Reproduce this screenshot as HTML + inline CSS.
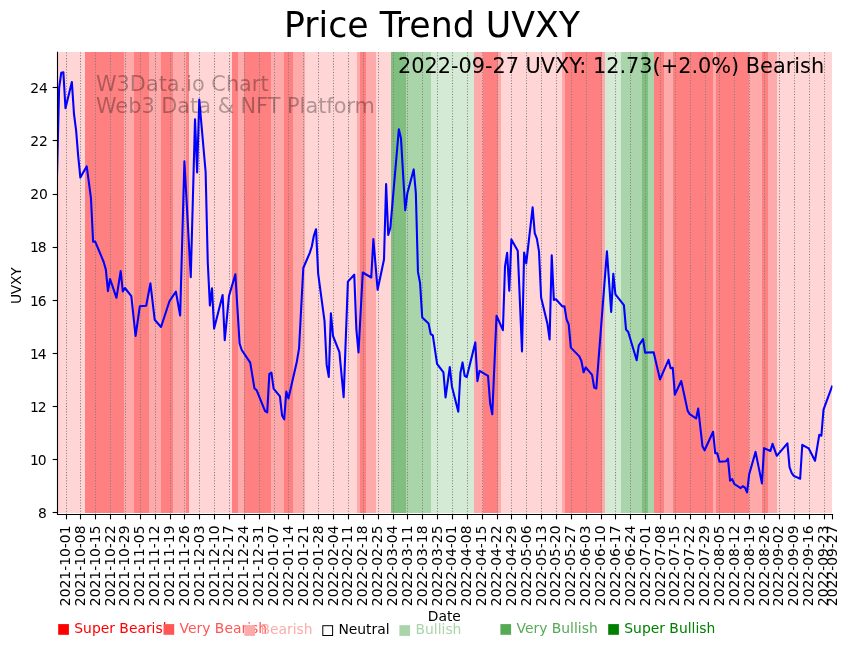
<!DOCTYPE html>
<html lang="en"><head><meta charset="utf-8"><title>Price Trend UVXY</title>
<style>html,body{margin:0;padding:0;background:#fff;}body{width:851px;height:646px;overflow:hidden;}svg{display:block;will-change:transform;}text{font-family:"DejaVu Sans","Liberation Sans",sans-serif;}</style></head><body>
<svg width="851" height="646" viewBox="0 0 851 646">
<rect width="851" height="646" fill="#ffffff"/>
<g shape-rendering="crispEdges">
<rect x="57.5" y="52.0" width="27.5" height="461.0" fill="#ffd5d5"/>
<rect x="85" y="52.0" width="39" height="461.0" fill="#ff8080"/>
<rect x="124" y="52.0" width="10" height="461.0" fill="#ffaaaa"/>
<rect x="134" y="52.0" width="15" height="461.0" fill="#ff8080"/>
<rect x="149" y="52.0" width="12" height="461.0" fill="#ffaaaa"/>
<rect x="161" y="52.0" width="12" height="461.0" fill="#ff8080"/>
<rect x="173" y="52.0" width="13" height="461.0" fill="#ffaaaa"/>
<rect x="186" y="52.0" width="3" height="461.0" fill="#ff8080"/>
<rect x="189" y="52.0" width="43" height="461.0" fill="#ffd5d5"/>
<rect x="232" y="52.0" width="6" height="461.0" fill="#ff8080"/>
<rect x="238" y="52.0" width="6" height="461.0" fill="#ffaaaa"/>
<rect x="244" y="52.0" width="27" height="461.0" fill="#ff8080"/>
<rect x="271" y="52.0" width="13" height="461.0" fill="#ffaaaa"/>
<rect x="284" y="52.0" width="9" height="461.0" fill="#ff8080"/>
<rect x="293" y="52.0" width="12" height="461.0" fill="#ffaaaa"/>
<rect x="305" y="52.0" width="52" height="461.0" fill="#ffd5d5"/>
<rect x="357" y="52.0" width="3" height="461.0" fill="#ffaaaa"/>
<rect x="360" y="52.0" width="6" height="461.0" fill="#ff8080"/>
<rect x="366" y="52.0" width="10" height="461.0" fill="#ffaaaa"/>
<rect x="376" y="52.0" width="15" height="461.0" fill="#ffd5d5"/>
<rect x="391" y="52.0" width="15" height="461.0" fill="#80bf80"/>
<rect x="406" y="52.0" width="25" height="461.0" fill="#aad5aa"/>
<rect x="431" y="52.0" width="43" height="461.0" fill="#d5ead5"/>
<rect x="474" y="52.0" width="9" height="461.0" fill="#ffaaaa"/>
<rect x="483" y="52.0" width="15" height="461.0" fill="#ff8080"/>
<rect x="498" y="52.0" width="3" height="461.0" fill="#ffaaaa"/>
<rect x="501" y="52.0" width="61" height="461.0" fill="#ffd5d5"/>
<rect x="562" y="52.0" width="3" height="461.0" fill="#ffaaaa"/>
<rect x="565" y="52.0" width="37" height="461.0" fill="#ff8080"/>
<rect x="602" y="52.0" width="3" height="461.0" fill="#ffaaaa"/>
<rect x="605" y="52.0" width="16" height="461.0" fill="#d5ead5"/>
<rect x="621" y="52.0" width="21" height="461.0" fill="#aad5aa"/>
<rect x="642" y="52.0" width="6" height="461.0" fill="#80bf80"/>
<rect x="648" y="52.0" width="6" height="461.0" fill="#aad5aa"/>
<rect x="654" y="52.0" width="10" height="461.0" fill="#ff8080"/>
<rect x="664" y="52.0" width="9" height="461.0" fill="#ffaaaa"/>
<rect x="673" y="52.0" width="40" height="461.0" fill="#ff8080"/>
<rect x="713" y="52.0" width="3" height="461.0" fill="#ffaaaa"/>
<rect x="716" y="52.0" width="33" height="461.0" fill="#ff8080"/>
<rect x="749" y="52.0" width="13" height="461.0" fill="#ffaaaa"/>
<rect x="762" y="52.0" width="6" height="461.0" fill="#ff8080"/>
<rect x="768" y="52.0" width="9" height="461.0" fill="#ffaaaa"/>
<rect x="777" y="52.0" width="55" height="461.0" fill="#ffd5d5"/>
</g>
<g stroke="#808080" stroke-width="1.04" stroke-dasharray="1.04 1.72" fill="none">
<line x1="66.5" y1="514.53" x2="66.5" y2="52.0"/>
<line x1="80.5" y1="514.53" x2="80.5" y2="52.0"/>
<line x1="95.5" y1="514.53" x2="95.5" y2="52.0"/>
<line x1="110.5" y1="514.53" x2="110.5" y2="52.0"/>
<line x1="125.5" y1="514.53" x2="125.5" y2="52.0"/>
<line x1="140.5" y1="514.53" x2="140.5" y2="52.0"/>
<line x1="155.5" y1="514.53" x2="155.5" y2="52.0"/>
<line x1="170.5" y1="514.53" x2="170.5" y2="52.0"/>
<line x1="184.5" y1="514.53" x2="184.5" y2="52.0"/>
<line x1="199.5" y1="514.53" x2="199.5" y2="52.0"/>
<line x1="214.5" y1="514.53" x2="214.5" y2="52.0"/>
<line x1="229.5" y1="514.53" x2="229.5" y2="52.0"/>
<line x1="244.5" y1="514.53" x2="244.5" y2="52.0"/>
<line x1="259.5" y1="514.53" x2="259.5" y2="52.0"/>
<line x1="274.5" y1="514.53" x2="274.5" y2="52.0"/>
<line x1="288.5" y1="514.53" x2="288.5" y2="52.0"/>
<line x1="303.5" y1="514.53" x2="303.5" y2="52.0"/>
<line x1="318.5" y1="514.53" x2="318.5" y2="52.0"/>
<line x1="333.5" y1="514.53" x2="333.5" y2="52.0"/>
<line x1="348.5" y1="514.53" x2="348.5" y2="52.0"/>
<line x1="363.5" y1="514.53" x2="363.5" y2="52.0"/>
<line x1="378.5" y1="514.53" x2="378.5" y2="52.0"/>
<line x1="393.5" y1="514.53" x2="393.5" y2="52.0"/>
<line x1="407.5" y1="514.53" x2="407.5" y2="52.0"/>
<line x1="422.5" y1="514.53" x2="422.5" y2="52.0"/>
<line x1="437.5" y1="514.53" x2="437.5" y2="52.0"/>
<line x1="452.5" y1="514.53" x2="452.5" y2="52.0"/>
<line x1="467.5" y1="514.53" x2="467.5" y2="52.0"/>
<line x1="482.5" y1="514.53" x2="482.5" y2="52.0"/>
<line x1="497.5" y1="514.53" x2="497.5" y2="52.0"/>
<line x1="511.5" y1="514.53" x2="511.5" y2="52.0"/>
<line x1="526.5" y1="514.53" x2="526.5" y2="52.0"/>
<line x1="541.5" y1="514.53" x2="541.5" y2="52.0"/>
<line x1="556.5" y1="514.53" x2="556.5" y2="52.0"/>
<line x1="571.5" y1="514.53" x2="571.5" y2="52.0"/>
<line x1="586.5" y1="514.53" x2="586.5" y2="52.0"/>
<line x1="601.5" y1="514.53" x2="601.5" y2="52.0"/>
<line x1="615.5" y1="514.53" x2="615.5" y2="52.0"/>
<line x1="630.5" y1="514.53" x2="630.5" y2="52.0"/>
<line x1="645.5" y1="514.53" x2="645.5" y2="52.0"/>
<line x1="660.5" y1="514.53" x2="660.5" y2="52.0"/>
<line x1="675.5" y1="514.53" x2="675.5" y2="52.0"/>
<line x1="690.5" y1="514.53" x2="690.5" y2="52.0"/>
<line x1="705.5" y1="514.53" x2="705.5" y2="52.0"/>
<line x1="719.5" y1="514.53" x2="719.5" y2="52.0"/>
<line x1="734.5" y1="514.53" x2="734.5" y2="52.0"/>
<line x1="749.5" y1="514.53" x2="749.5" y2="52.0"/>
<line x1="764.5" y1="514.53" x2="764.5" y2="52.0"/>
<line x1="779.5" y1="514.53" x2="779.5" y2="52.0"/>
<line x1="794.5" y1="514.53" x2="794.5" y2="52.0"/>
<line x1="809.5" y1="514.53" x2="809.5" y2="52.0"/>
<line x1="824.5" y1="514.53" x2="824.5" y2="52.0"/>
</g>
<clipPath id="c"><rect x="57.5" y="52.0" width="775.0" height="462.5"/></clipPath>
<polyline clip-path="url(#c)" fill="none" stroke="#0000ff" stroke-width="2.08" stroke-linejoin="round" stroke-linecap="square" points="57.00,176.00 59.12,88.00 61.25,72.80 63.37,72.30 65.49,108.20 71.86,82.00 73.99,114.00 76.11,130.30 78.23,156.40 80.36,177.60 86.73,166.30 90.97,198.10 93.10,241.60 95.22,241.60 103.71,262.00 105.84,269.60 107.96,291.10 110.08,279.00 116.45,297.80 120.70,271.00 122.82,291.40 124.95,288.00 131.32,296.20 135.56,336.00 139.81,306.30 146.18,305.80 150.42,283.30 154.67,319.70 161.04,327.00 169.53,301.00 175.90,291.70 180.15,315.50 184.40,161.30 190.77,277.20 195.01,119.30 197.14,172.50 199.26,99.60 205.63,172.00 207.75,262.00 209.88,305.50 212.00,288.30 214.12,328.60 222.62,295.00 224.74,340.20 228.99,296.00 235.36,274.20 239.60,343.50 241.73,350.00 250.22,362.60 254.47,388.50 256.59,390.10 265.08,411.20 267.21,412.40 269.33,373.90 271.45,372.70 273.58,388.70 279.95,396.40 282.07,415.50 284.19,419.30 286.32,391.50 288.44,398.50 296.93,361.20 299.05,348.30 303.30,268.00 309.67,253.10 311.79,246.50 313.92,235.50 316.04,229.20 318.16,273.60 324.53,321.20 326.66,364.90 328.78,376.90 330.90,313.40 333.03,336.00 339.40,352.20 343.64,397.10 347.89,281.60 354.26,274.70 356.38,329.60 358.51,352.50 362.75,272.50 371.25,277.50 373.37,239.00 377.62,289.80 383.99,259.50 386.11,184.00 388.23,235.00 390.36,227.80 398.85,129.20 400.97,138.30 405.22,210.20 407.34,193.30 413.71,169.40 415.84,193.00 417.96,271.90 420.08,283.10 422.21,317.40 428.58,323.60 430.70,334.00 432.82,335.30 437.07,363.85 443.44,372.30 445.56,397.40 449.81,367.00 451.93,386.40 458.30,411.80 460.42,373.00 462.55,362.40 464.67,375.80 466.79,377.00 475.29,342.40 477.41,381.10 479.53,370.90 488.03,375.80 490.15,403.30 492.27,414.30 496.52,315.70 502.89,330.20 505.01,266.50 507.14,252.80 509.26,290.70 511.38,239.40 517.75,250.70 522.00,351.40 524.12,252.50 526.25,263.40 532.62,207.40 534.74,233.10 536.86,238.70 538.99,251.40 541.11,297.50 547.48,324.00 549.60,339.40 551.73,255.40 553.85,299.90 555.97,299.30 562.34,306.40 564.47,306.40 566.59,319.40 568.71,324.30 570.84,347.60 579.33,356.40 581.45,361.20 583.58,372.30 585.70,367.40 592.07,374.90 594.19,387.50 596.32,388.50 606.93,251.30 611.18,311.90 613.30,273.90 615.42,294.30 623.92,305.20 626.04,329.60 628.16,331.70 636.66,360.30 638.78,345.50 643.03,339.20 645.15,352.60 653.64,352.30 660.01,379.40 668.51,359.80 670.63,368.20 672.75,367.70 674.88,394.60 681.25,381.00 687.62,410.60 689.74,414.20 696.11,418.50 698.23,408.50 702.48,446.30 704.60,450.30 713.10,431.80 715.22,453.10 717.34,453.40 719.47,461.80 725.84,461.30 727.96,458.70 730.08,480.60 732.21,479.20 734.33,484.00 740.70,488.10 742.82,486.20 744.95,487.60 747.07,492.30 749.19,474.20 755.56,451.90 761.93,483.40 764.05,448.10 770.42,451.00 772.55,443.80 776.79,455.80 787.41,443.30 789.53,467.20 791.66,472.80 793.78,475.90 800.15,478.75 802.27,444.80 808.64,448.30 815.01,460.75 819.26,434.90 821.38,435.65 823.51,409.55 832.00,386.50"/>
<g stroke="#000" stroke-width="1.11" fill="none">
<line x1="57.5" y1="51.8" x2="57.5" y2="515.05"/>
<line x1="56.95" y1="514.5" x2="833.05" y2="514.5"/>
</g>
<g stroke="#000" stroke-width="1.11" fill="none">
<line x1="66.5" y1="514.5" x2="66.5" y2="519.36"/>
<line x1="80.5" y1="514.5" x2="80.5" y2="519.36"/>
<line x1="95.5" y1="514.5" x2="95.5" y2="519.36"/>
<line x1="110.5" y1="514.5" x2="110.5" y2="519.36"/>
<line x1="125.5" y1="514.5" x2="125.5" y2="519.36"/>
<line x1="140.5" y1="514.5" x2="140.5" y2="519.36"/>
<line x1="155.5" y1="514.5" x2="155.5" y2="519.36"/>
<line x1="170.5" y1="514.5" x2="170.5" y2="519.36"/>
<line x1="184.5" y1="514.5" x2="184.5" y2="519.36"/>
<line x1="199.5" y1="514.5" x2="199.5" y2="519.36"/>
<line x1="214.5" y1="514.5" x2="214.5" y2="519.36"/>
<line x1="229.5" y1="514.5" x2="229.5" y2="519.36"/>
<line x1="244.5" y1="514.5" x2="244.5" y2="519.36"/>
<line x1="259.5" y1="514.5" x2="259.5" y2="519.36"/>
<line x1="274.5" y1="514.5" x2="274.5" y2="519.36"/>
<line x1="288.5" y1="514.5" x2="288.5" y2="519.36"/>
<line x1="303.5" y1="514.5" x2="303.5" y2="519.36"/>
<line x1="318.5" y1="514.5" x2="318.5" y2="519.36"/>
<line x1="333.5" y1="514.5" x2="333.5" y2="519.36"/>
<line x1="348.5" y1="514.5" x2="348.5" y2="519.36"/>
<line x1="363.5" y1="514.5" x2="363.5" y2="519.36"/>
<line x1="378.5" y1="514.5" x2="378.5" y2="519.36"/>
<line x1="393.5" y1="514.5" x2="393.5" y2="519.36"/>
<line x1="407.5" y1="514.5" x2="407.5" y2="519.36"/>
<line x1="422.5" y1="514.5" x2="422.5" y2="519.36"/>
<line x1="437.5" y1="514.5" x2="437.5" y2="519.36"/>
<line x1="452.5" y1="514.5" x2="452.5" y2="519.36"/>
<line x1="467.5" y1="514.5" x2="467.5" y2="519.36"/>
<line x1="482.5" y1="514.5" x2="482.5" y2="519.36"/>
<line x1="497.5" y1="514.5" x2="497.5" y2="519.36"/>
<line x1="511.5" y1="514.5" x2="511.5" y2="519.36"/>
<line x1="526.5" y1="514.5" x2="526.5" y2="519.36"/>
<line x1="541.5" y1="514.5" x2="541.5" y2="519.36"/>
<line x1="556.5" y1="514.5" x2="556.5" y2="519.36"/>
<line x1="571.5" y1="514.5" x2="571.5" y2="519.36"/>
<line x1="586.5" y1="514.5" x2="586.5" y2="519.36"/>
<line x1="601.5" y1="514.5" x2="601.5" y2="519.36"/>
<line x1="615.5" y1="514.5" x2="615.5" y2="519.36"/>
<line x1="630.5" y1="514.5" x2="630.5" y2="519.36"/>
<line x1="645.5" y1="514.5" x2="645.5" y2="519.36"/>
<line x1="660.5" y1="514.5" x2="660.5" y2="519.36"/>
<line x1="675.5" y1="514.5" x2="675.5" y2="519.36"/>
<line x1="690.5" y1="514.5" x2="690.5" y2="519.36"/>
<line x1="705.5" y1="514.5" x2="705.5" y2="519.36"/>
<line x1="719.5" y1="514.5" x2="719.5" y2="519.36"/>
<line x1="734.5" y1="514.5" x2="734.5" y2="519.36"/>
<line x1="749.5" y1="514.5" x2="749.5" y2="519.36"/>
<line x1="764.5" y1="514.5" x2="764.5" y2="519.36"/>
<line x1="779.5" y1="514.5" x2="779.5" y2="519.36"/>
<line x1="794.5" y1="514.5" x2="794.5" y2="519.36"/>
<line x1="809.5" y1="514.5" x2="809.5" y2="519.36"/>
<line x1="824.5" y1="514.5" x2="824.5" y2="519.36"/>
<line x1="832.5" y1="514.5" x2="832.5" y2="519.36"/>
<line x1="57.5" y1="512.5" x2="52.64" y2="512.5"/>
<line x1="57.5" y1="459.5" x2="52.64" y2="459.5"/>
<line x1="57.5" y1="406.5" x2="52.64" y2="406.5"/>
<line x1="57.5" y1="353.5" x2="52.64" y2="353.5"/>
<line x1="57.5" y1="300.5" x2="52.64" y2="300.5"/>
<line x1="57.5" y1="247.5" x2="52.64" y2="247.5"/>
<line x1="57.5" y1="194.5" x2="52.64" y2="194.5"/>
<line x1="57.5" y1="140.5" x2="52.64" y2="140.5"/>
<line x1="57.5" y1="87.5" x2="52.64" y2="87.5"/>
</g>
<g font-size="13.889px" fill="#000" text-anchor="end">
<text x="46.9" y="518.10">8</text>
<text x="46.6" y="464.98" textLength="16.72" lengthAdjust="spacing">10</text>
<text x="46.6" y="411.85" textLength="16.72" lengthAdjust="spacing">12</text>
<text x="46.6" y="358.73" textLength="16.72" lengthAdjust="spacing">14</text>
<text x="46.6" y="305.60" textLength="16.72" lengthAdjust="spacing">16</text>
<text x="46.6" y="252.48" textLength="16.72" lengthAdjust="spacing">18</text>
<text x="47.8" y="199.35">20</text>
<text x="47.8" y="146.23">22</text>
<text x="47.8" y="93.10">24</text>
</g>
<g font-size="13.889px" fill="#000" text-anchor="end">
<text transform="translate(69.99,525.5) rotate(-90)">2021-10-01</text>
<text transform="translate(84.86,525.5) rotate(-90)">2021-10-08</text>
<text transform="translate(99.72,525.5) rotate(-90)">2021-10-15</text>
<text transform="translate(114.58,525.5) rotate(-90)">2021-10-22</text>
<text transform="translate(129.45,525.5) rotate(-90)">2021-10-29</text>
<text transform="translate(144.31,525.5) rotate(-90)">2021-11-05</text>
<text transform="translate(159.17,525.5) rotate(-90)">2021-11-12</text>
<text transform="translate(174.03,525.5) rotate(-90)">2021-11-19</text>
<text transform="translate(188.90,525.5) rotate(-90)">2021-11-26</text>
<text transform="translate(203.76,525.5) rotate(-90)">2021-12-03</text>
<text transform="translate(218.62,525.5) rotate(-90)">2021-12-10</text>
<text transform="translate(233.49,525.5) rotate(-90)">2021-12-17</text>
<text transform="translate(248.35,525.5) rotate(-90)">2021-12-24</text>
<text transform="translate(263.21,525.5) rotate(-90)">2021-12-31</text>
<text transform="translate(278.08,525.5) rotate(-90)">2022-01-07</text>
<text transform="translate(292.94,525.5) rotate(-90)">2022-01-14</text>
<text transform="translate(307.80,525.5) rotate(-90)">2022-01-21</text>
<text transform="translate(322.66,525.5) rotate(-90)">2022-01-28</text>
<text transform="translate(337.53,525.5) rotate(-90)">2022-02-04</text>
<text transform="translate(352.39,525.5) rotate(-90)">2022-02-11</text>
<text transform="translate(367.25,525.5) rotate(-90)">2022-02-18</text>
<text transform="translate(382.12,525.5) rotate(-90)">2022-02-25</text>
<text transform="translate(396.98,525.5) rotate(-90)">2022-03-04</text>
<text transform="translate(411.84,525.5) rotate(-90)">2022-03-11</text>
<text transform="translate(426.71,525.5) rotate(-90)">2022-03-18</text>
<text transform="translate(441.57,525.5) rotate(-90)">2022-03-25</text>
<text transform="translate(456.43,525.5) rotate(-90)">2022-04-01</text>
<text transform="translate(471.29,525.5) rotate(-90)">2022-04-08</text>
<text transform="translate(486.16,525.5) rotate(-90)">2022-04-15</text>
<text transform="translate(501.02,525.5) rotate(-90)">2022-04-22</text>
<text transform="translate(515.88,525.5) rotate(-90)">2022-04-29</text>
<text transform="translate(530.75,525.5) rotate(-90)">2022-05-06</text>
<text transform="translate(545.61,525.5) rotate(-90)">2022-05-13</text>
<text transform="translate(560.47,525.5) rotate(-90)">2022-05-20</text>
<text transform="translate(575.34,525.5) rotate(-90)">2022-05-27</text>
<text transform="translate(590.20,525.5) rotate(-90)">2022-06-03</text>
<text transform="translate(605.06,525.5) rotate(-90)">2022-06-10</text>
<text transform="translate(619.92,525.5) rotate(-90)">2022-06-17</text>
<text transform="translate(634.79,525.5) rotate(-90)">2022-06-24</text>
<text transform="translate(649.65,525.5) rotate(-90)">2022-07-01</text>
<text transform="translate(664.51,525.5) rotate(-90)">2022-07-08</text>
<text transform="translate(679.38,525.5) rotate(-90)">2022-07-15</text>
<text transform="translate(694.24,525.5) rotate(-90)">2022-07-22</text>
<text transform="translate(709.10,525.5) rotate(-90)">2022-07-29</text>
<text transform="translate(723.97,525.5) rotate(-90)">2022-08-05</text>
<text transform="translate(738.83,525.5) rotate(-90)">2022-08-12</text>
<text transform="translate(753.69,525.5) rotate(-90)">2022-08-19</text>
<text transform="translate(768.55,525.5) rotate(-90)">2022-08-26</text>
<text transform="translate(783.42,525.5) rotate(-90)">2022-09-02</text>
<text transform="translate(798.28,525.5) rotate(-90)">2022-09-09</text>
<text transform="translate(813.14,525.5) rotate(-90)">2022-09-16</text>
<text transform="translate(828.01,525.5) rotate(-90)">2022-09-23</text>
<text transform="translate(836.50,525.5) rotate(-90)">2022-09-27</text>
</g>
<text x="444.3" y="620.6" font-size="13.889px" text-anchor="middle">Date</text>
<text transform="translate(21,285.7) rotate(-90)" font-size="13.889px" text-anchor="middle" textLength="36.7" lengthAdjust="spacing">UVXY</text>
<text x="432.0" y="37.3" font-size="34.722px" text-anchor="middle">Price Trend UVXY</text>
<text x="824.1" y="73.1" font-size="20.833px" text-anchor="end">2022-09-27 UVXY: 12.73(+2.0%) Bearish</text>
<g font-size="20.833px" fill="#000" fill-opacity="0.31"><text x="96.0" y="90.5">W3Data.io Chart</text><text x="96.0" y="113.1">Web3 Data &amp; NFT Platform</text></g>
<rect x="58.2" y="624.1" width="10.7" height="10.7" fill="#ff0000"/>
<text x="74.30000000000001" y="632.5" font-size="13.889px" fill="#ff0000">Super Bearish</text>
<rect x="163.5" y="624.1" width="10.7" height="10.7" fill="#ff5555"/>
<text x="179.6" y="632.5" font-size="13.889px" fill="#ff5555">Very Bearish</text>
<rect x="244.4" y="625.2" width="10.7" height="10.7" fill="#ffaaaa"/>
<text x="260.5" y="634.3" font-size="13.889px" fill="#ffaaaa">Bearish</text>
<rect x="322.8" y="625.7" width="9.8" height="9.8" fill="#ffffff" stroke="#000" stroke-width="1"/>
<text x="338.40000000000003" y="634.3" font-size="13.889px" fill="#000">Neutral</text>
<rect x="399.4" y="625.2" width="10.7" height="10.7" fill="#aad4aa"/>
<text x="415.5" y="634.3" font-size="13.889px" fill="#aad4aa">Bullish</text>
<rect x="500.4" y="624.1" width="10.7" height="10.7" fill="#55aa55"/>
<text x="516.5" y="632.5" font-size="13.889px" fill="#55aa55">Very Bullish</text>
<rect x="608.2" y="624.1" width="10.7" height="10.7" fill="#008000"/>
<text x="624.3000000000001" y="632.5" font-size="13.889px" fill="#008000">Super Bullish</text>
</svg></body></html>
